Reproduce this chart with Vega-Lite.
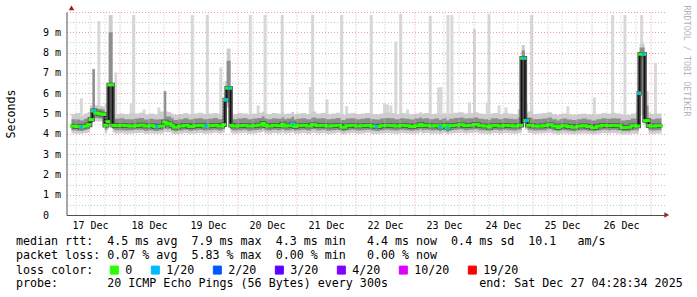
{
"$schema": "https://vega.github.io/schema/vega-lite/v6.json",
"width": 600, "height": 203,
"autosize": {"type": "none"},
"padding": {"left": 66.5, "top": 12, "right": 30.5, "bottom": 82},
"background": "white",
"config": {"view": {"stroke": null}, "font": "DejaVu Sans Mono"},
"title": {
 "text": ["median rtt:\u00a0\u00a04.5 ms avg\u00a0\u00a07.9 ms max\u00a0\u00a04.3 ms min\u00a0\u00a0\u00a04.4 ms now\u00a0\u00a00.4 ms sd\u00a0\u00a010.1\u00a0\u00a0\u00a0am/s",
  "packet loss: 0.07 % avg\u00a0\u00a05.83 % max\u00a0\u00a00.00 % min\u00a0\u00a0\u00a00.00 % now"],
 "subtitle": "probe:\u00a0\u00a0\u00a0\u00a0\u00a0\u00a0\u00a020 ICMP Echo Pings (56 Bytes) every 300s\u00a0\u00a0\u00a0\u00a0\u00a0\u00a0\u00a0\u00a0\u00a0\u00a0\u00a0\u00a0\u00a0end: Sat Dec 27 04:28:34 2025",
 "orient": "bottom", "anchor": "start", "frame": "group", "dx": -50.5, "offset": -41,
 "font": "DejaVu Sans Mono", "fontSize": 11.67, "fontWeight": "normal", "color": "black",
 "lineHeight": 14, "baseline": "top",
 "subtitleFont": "DejaVu Sans Mono", "subtitleFontSize": 11.67, "subtitleFontWeight": "normal", "subtitleColor": "black",
 "subtitleLineHeight": 14, "subtitlePadding": 16.5
},
"datasets": {
 "main": [
  {"t":4.476,"m":4.38,"a":4.02,"b":4.18,"c":4.72,"d":4.98},
  {"t":6,"m":4.36,"a":4.0,"b":4.15,"c":4.7,"d":5.02},
  {"t":8,"m":4.33,"a":4.0,"b":4.14,"c":4.66,"d":4.9},
  {"t":9.5,"m":4.38,"a":4.04,"b":4.2,"c":4.74,"d":5.0},
  {"t":11,"m":4.45,"a":4.08,"b":4.24,"c":4.8,"d":5.08},
  {"t":12,"m":4.7,"a":4.3,"b":4.5,"c":5.1,"d":5.4},
  {"t":13,"m":5.13,"a":4.62,"b":4.8,"c":7.18,"d":7.2},
  {"t":14,"m":5.02,"a":4.62,"b":4.78,"c":5.25,"d":5.42},
  {"t":15.5,"m":4.98,"a":4.6,"b":4.75,"c":5.22,"d":5.38},
  {"t":17,"m":4.95,"a":4.58,"b":4.74,"c":5.2,"d":5.35},
  {"t":18,"m":4.42,"a":4.04,"b":4.2,"c":4.8,"d":5.1},
  {"t":19,"m":4.6,"a":4.2,"b":4.4,"c":5.0,"d":5.5},
  {"t":19.6,"m":6.41,"a":4.5,"b":5.6,"c":9.0,"d":9.85},
  {"t":21.2,"m":4.42,"a":4.06,"b":4.22,"c":4.8,"d":5.05},
  {"t":22,"m":4.4,"a":4.02,"b":4.18,"c":4.74,"d":4.98},
  {"t":24,"m":4.42,"a":4.03,"b":4.18,"c":4.76,"d":5.0},
  {"t":26,"m":4.4,"a":4.0,"b":4.16,"c":4.72,"d":4.96},
  {"t":28,"m":4.38,"a":4.02,"b":4.17,"c":4.72,"d":5.02},
  {"t":30,"m":4.4,"a":4.04,"b":4.2,"c":4.75,"d":5.0},
  {"t":32,"m":4.43,"a":4.05,"b":4.2,"c":4.78,"d":5.04},
  {"t":34,"m":4.38,"a":4.0,"b":4.15,"c":4.7,"d":4.95},
  {"t":36,"m":4.4,"a":4.02,"b":4.18,"c":4.74,"d":5.0},
  {"t":38,"m":4.35,"a":4.0,"b":4.14,"c":4.7,"d":4.96},
  {"t":40,"m":4.38,"a":4.02,"b":4.17,"c":4.72,"d":5.1},
  {"t":42,"m":4.58,"a":4.1,"b":4.3,"c":6.1,"d":6.12},
  {"t":43,"m":4.48,"a":4.06,"b":4.22,"c":4.85,"d":5.1},
  {"t":44,"m":4.5,"a":4.08,"b":4.25,"c":4.85,"d":5.08},
  {"t":45,"m":4.4,"a":4.02,"b":4.18,"c":4.76,"d":5.0},
  {"t":46,"m":4.32,"a":3.98,"b":4.12,"c":4.68,"d":4.94},
  {"t":48,"m":4.38,"a":4.0,"b":4.16,"c":4.72,"d":4.98},
  {"t":50,"m":4.42,"a":4.04,"b":4.2,"c":4.76,"d":5.02},
  {"t":52,"m":4.36,"a":4.0,"b":4.15,"c":4.7,"d":4.96},
  {"t":54,"m":4.4,"a":4.02,"b":4.18,"c":4.75,"d":5.0},
  {"t":56,"m":4.42,"a":4.04,"b":4.2,"c":4.76,"d":5.04},
  {"t":58,"m":4.38,"a":4.0,"b":4.16,"c":4.72,"d":4.98},
  {"t":60,"m":4.4,"a":4.02,"b":4.18,"c":4.74,"d":5.0},
  {"t":62,"m":4.42,"a":4.05,"b":4.2,"c":4.78,"d":5.02},
  {"t":64,"m":4.38,"a":4.02,"b":4.16,"c":4.72,"d":4.98},
  {"t":66,"m":4.45,"a":4.06,"b":4.22,"c":4.8,"d":5.3},
  {"t":66.8,"m":5.67,"a":4.8,"b":5.1,"c":6.0,"d":6.6},
  {"t":67.6,"m":6.25,"a":5.3,"b":5.6,"c":7.6,"d":8.2},
  {"t":69.2,"m":4.42,"a":4.04,"b":4.2,"c":4.8,"d":5.1},
  {"t":70,"m":4.38,"a":4.0,"b":4.16,"c":4.72,"d":4.98},
  {"t":72,"m":4.4,"a":4.03,"b":4.18,"c":4.75,"d":5.02},
  {"t":74,"m":4.42,"a":4.05,"b":4.2,"c":4.78,"d":5.0},
  {"t":76,"m":4.38,"a":4.0,"b":4.15,"c":4.72,"d":4.96},
  {"t":78,"m":4.4,"a":4.02,"b":4.18,"c":4.75,"d":5.0},
  {"t":80,"m":4.43,"a":4.05,"b":4.2,"c":4.78,"d":5.04},
  {"t":82,"m":4.52,"a":4.1,"b":4.26,"c":4.86,"d":5.1},
  {"t":83,"m":4.4,"a":4.02,"b":4.18,"c":4.75,"d":5.0},
  {"t":84,"m":4.38,"a":4.0,"b":4.16,"c":4.72,"d":4.98},
  {"t":86,"m":4.42,"a":4.04,"b":4.2,"c":4.76,"d":5.02},
  {"t":88,"m":4.4,"a":4.02,"b":4.18,"c":4.74,"d":5.0},
  {"t":90,"m":4.48,"a":4.06,"b":4.22,"c":4.82,"d":5.06},
  {"t":91,"m":4.38,"a":4.0,"b":4.16,"c":4.72,"d":4.98},
  {"t":92,"m":4.4,"a":4.03,"b":4.18,"c":4.75,"d":5.0},
  {"t":94,"m":4.48,"a":4.06,"b":4.22,"c":4.84,"d":5.08},
  {"t":95,"m":4.36,"a":4.0,"b":4.15,"c":4.7,"d":4.96},
  {"t":96,"m":4.4,"a":4.02,"b":4.18,"c":4.74,"d":5.0},
  {"t":98,"m":4.42,"a":4.04,"b":4.2,"c":4.77,"d":5.02},
  {"t":100,"m":4.38,"a":4.0,"b":4.16,"c":4.72,"d":4.98},
  {"t":102,"m":4.45,"a":4.05,"b":4.22,"c":4.8,"d":5.1},
  {"t":104,"m":4.4,"a":4.02,"b":4.18,"c":4.75,"d":5.0},
  {"t":106,"m":4.42,"a":4.04,"b":4.2,"c":4.76,"d":5.02},
  {"t":108,"m":4.38,"a":4.0,"b":4.15,"c":4.72,"d":4.98},
  {"t":110,"m":4.4,"a":4.02,"b":4.18,"c":4.74,"d":5.0},
  {"t":112,"m":4.42,"a":4.05,"b":4.2,"c":4.78,"d":5.04},
  {"t":114,"m":4.32,"a":3.98,"b":4.12,"c":4.68,"d":4.94},
  {"t":116,"m":4.4,"a":4.02,"b":4.18,"c":4.75,"d":5.0},
  {"t":118,"m":4.42,"a":4.04,"b":4.2,"c":4.77,"d":5.02},
  {"t":120,"m":4.38,"a":4.0,"b":4.16,"c":4.72,"d":4.98},
  {"t":122,"m":4.4,"a":4.02,"b":4.18,"c":4.74,"d":5.0},
  {"t":124,"m":4.42,"a":4.05,"b":4.2,"c":4.78,"d":5.02},
  {"t":126,"m":4.38,"a":4.0,"b":4.16,"c":4.72,"d":4.98},
  {"t":128,"m":4.35,"a":4.0,"b":4.14,"c":4.7,"d":4.96},
  {"t":130,"m":4.4,"a":4.02,"b":4.18,"c":4.75,"d":5.0},
  {"t":132,"m":4.42,"a":4.04,"b":4.2,"c":4.78,"d":5.05},
  {"t":134,"m":4.4,"a":4.02,"b":4.18,"c":4.76,"d":5.02},
  {"t":136,"m":4.38,"a":4.0,"b":4.16,"c":4.72,"d":4.98},
  {"t":138,"m":4.42,"a":4.04,"b":4.2,"c":4.77,"d":5.02},
  {"t":140,"m":4.4,"a":4.02,"b":4.18,"c":4.74,"d":5.0},
  {"t":142,"m":4.36,"a":4.0,"b":4.15,"c":4.7,"d":4.96},
  {"t":144,"m":4.4,"a":4.02,"b":4.18,"c":4.75,"d":5.0},
  {"t":146,"m":4.46,"a":4.06,"b":4.22,"c":4.8,"d":5.06},
  {"t":147,"m":4.4,"a":4.02,"b":4.18,"c":4.74,"d":5.0},
  {"t":148,"m":4.42,"a":4.04,"b":4.2,"c":4.77,"d":5.02},
  {"t":150,"m":4.38,"a":4.0,"b":4.16,"c":4.72,"d":4.98},
  {"t":152,"m":4.4,"a":4.02,"b":4.18,"c":4.75,"d":5.0},
  {"t":154,"m":4.33,"a":3.98,"b":4.13,"c":4.68,"d":4.95},
  {"t":155,"m":4.4,"a":4.02,"b":4.18,"c":4.74,"d":5.0},
  {"t":156,"m":4.42,"a":4.04,"b":4.2,"c":4.77,"d":5.02},
  {"t":157,"m":4.28,"a":3.96,"b":4.1,"c":4.65,"d":4.92},
  {"t":158,"m":4.4,"a":4.02,"b":4.18,"c":4.74,"d":5.0},
  {"t":160,"m":4.42,"a":4.04,"b":4.2,"c":4.78,"d":5.04},
  {"t":162,"m":4.45,"a":4.05,"b":4.22,"c":4.8,"d":5.06},
  {"t":164,"m":4.4,"a":4.02,"b":4.18,"c":4.75,"d":5.0},
  {"t":166,"m":4.42,"a":4.04,"b":4.2,"c":4.77,"d":5.02},
  {"t":168,"m":4.46,"a":4.06,"b":4.22,"c":4.8,"d":5.06},
  {"t":170,"m":4.4,"a":4.02,"b":4.18,"c":4.74,"d":5.0},
  {"t":172,"m":4.38,"a":4.0,"b":4.16,"c":4.72,"d":4.98},
  {"t":174,"m":4.32,"a":3.98,"b":4.12,"c":4.68,"d":4.94},
  {"t":175,"m":4.4,"a":4.02,"b":4.18,"c":4.75,"d":5.0},
  {"t":176,"m":4.42,"a":4.04,"b":4.2,"c":4.77,"d":5.02},
  {"t":178,"m":4.38,"a":4.0,"b":4.16,"c":4.72,"d":4.98},
  {"t":180,"m":4.42,"a":4.04,"b":4.2,"c":4.77,"d":5.02},
  {"t":182,"m":4.4,"a":4.02,"b":4.18,"c":4.74,"d":5.0},
  {"t":184,"m":4.38,"a":4.0,"b":4.16,"c":4.72,"d":4.98},
  {"t":186,"m":4.42,"a":4.04,"b":4.2,"c":4.8,"d":5.2},
  {"t":187.6,"m":7.72,"a":6.6,"b":7.3,"c":8.1,"d":8.38},
  {"t":188.9,"m":4.65,"a":4.2,"b":4.35,"c":5.0,"d":5.5},
  {"t":190,"m":4.42,"a":4.04,"b":4.2,"c":4.8,"d":5.1},
  {"t":192,"m":4.38,"a":4.0,"b":4.16,"c":4.72,"d":4.98},
  {"t":194,"m":4.38,"a":4.02,"b":4.17,"c":4.73,"d":5.0},
  {"t":196,"m":4.4,"a":4.03,"b":4.18,"c":4.75,"d":5.02},
  {"t":198,"m":4.45,"a":4.05,"b":4.22,"c":4.8,"d":5.06},
  {"t":200,"m":4.38,"a":4.0,"b":4.16,"c":4.72,"d":4.98},
  {"t":202,"m":4.3,"a":3.97,"b":4.12,"c":4.66,"d":4.92},
  {"t":203,"m":4.38,"a":4.0,"b":4.16,"c":4.72,"d":4.98},
  {"t":204,"m":4.4,"a":4.02,"b":4.18,"c":4.75,"d":5.0},
  {"t":206,"m":4.36,"a":4.0,"b":4.15,"c":4.7,"d":4.96},
  {"t":208,"m":4.32,"a":3.98,"b":4.12,"c":4.68,"d":4.94},
  {"t":210,"m":4.38,"a":4.0,"b":4.16,"c":4.72,"d":4.98},
  {"t":212,"m":4.4,"a":4.02,"b":4.18,"c":4.75,"d":5.0},
  {"t":214,"m":4.36,"a":4.0,"b":4.15,"c":4.7,"d":4.96},
  {"t":216,"m":4.3,"a":3.97,"b":4.12,"c":4.66,"d":4.92},
  {"t":218,"m":4.38,"a":4.0,"b":4.16,"c":4.72,"d":4.98},
  {"t":220,"m":4.42,"a":4.04,"b":4.2,"c":4.77,"d":5.02},
  {"t":222,"m":4.4,"a":4.02,"b":4.18,"c":4.74,"d":5.0},
  {"t":224,"m":4.42,"a":4.04,"b":4.2,"c":4.77,"d":5.04},
  {"t":226,"m":4.4,"a":4.02,"b":4.18,"c":4.75,"d":5.0},
  {"t":228,"m":4.3,"a":3.97,"b":4.12,"c":4.66,"d":4.92},
  {"t":230,"m":4.32,"a":3.98,"b":4.12,"c":4.68,"d":4.94},
  {"t":232,"m":4.4,"a":4.02,"b":4.18,"c":4.75,"d":5.0},
  {"t":234,"m":4.38,"a":4.0,"b":4.16,"c":4.74,"d":5.1},
  {"t":235.2,"m":6.0,"a":5.2,"b":5.7,"c":6.8,"d":7.3},
  {"t":235.6,"m":7.92,"a":7.5,"b":7.72,"c":8.25,"d":8.45},
  {"t":237.6,"m":4.65,"a":4.3,"b":4.5,"c":5.4,"d":6.1},
  {"t":239.2,"m":4.4,"a":4.02,"b":4.18,"c":4.78,"d":5.05},
  {"t":240,"m":4.38,"a":4.0,"b":4.16,"c":4.72,"d":4.98},
  {"t":242,"m":4.4,"a":4.02,"b":4.18,"c":4.75,"d":5.0},
  {"t":244.476,"m":4.4,"a":4.02,"b":4.18,"c":4.75,"d":5.0}
 ],
 "spikes": [
  {"t":8.5,"top":5.75},{"t":15.6,"top":9.56},{"t":18.6,"top":5.5},{"t":22.5,"top":7.03},{"t":28.8,"top":5.5},{"t":29.7,"top":9.85},{"t":34,"top":5.2},{"t":40,"top":5.3},{"t":53.6,"top":9.85},{"t":59.7,"top":9.85},{"t":65.2,"top":7.27},{"t":77.2,"top":9.85},{"t":80.4,"top":5.4},{"t":83.2,"top":9.85},{"t":90.2,"top":9.85},{"t":101.6,"top":6.3},{"t":102.6,"top":9.85},{"t":108.4,"top":5.7},{"t":114.4,"top":9.85},{"t":116.4,"top":5.36},{"t":126.4,"top":9.85},{"t":131.8,"top":5.5},{"t":133,"top":5.45},{"t":134.4,"top":5.4},{"t":136.4,"top":8.54},{"t":138.4,"top":9.9},{"t":141.2,"top":5.2},{"t":150.4,"top":9.8},{"t":153.8,"top":6.28},{"t":154.8,"top":6.3},{"t":157.6,"top":9.85},{"t":159.2,"top":9.85},{"t":166.4,"top":5.55},{"t":168.4,"top":9.16},{"t":173.6,"top":5.55},{"t":174.3,"top":9.9},{"t":178.4,"top":5.4},{"t":181.2,"top":5.3},{"t":191.6,"top":9.85},{"t":206.4,"top":5.36},{"t":217.2,"top":5.79},{"t":224.6,"top":9.85},{"t":229.6,"top":9.85},{"t":236.4,"top":9.85},{"t":242,"top":7.5}
 ],
 "loss": [
  {"t":8.4,"v":4.33,"loss":"1/20"},{"t":13.6,"v":5.13,"loss":"1/20"},{"t":39.2,"v":4.33,"loss":"1/20"},{"t":59.2,"v":4.38,"loss":"1/20"},{"t":67.2,"v":5.67,"loss":"1/20"},{"t":68.6,"v":6.25,"loss":"1/20"},{"t":94.4,"v":4.5,"loss":"1/20"},{"t":128.4,"v":4.33,"loss":"1/20"},{"t":154.4,"v":4.33,"loss":"1/20"},{"t":157.6,"v":4.28,"loss":"1/20"},{"t":188.4,"v":7.72,"loss":"1/20"},{"t":189.6,"v":4.65,"loss":"1/20"},{"t":235.3,"v":6.0,"loss":"1/20"},{"t":237.1,"v":7.92,"loss":"1/20"}
 ],
 "arrowtop": [{"t":4.476,"v":10.2}],
 "arrowright": [{"t":246.6,"v":0}]
},
"encoding": {
 "x": {"field": "t", "type": "quantitative", "scale": {"domain": [4.476, 244.476], "nice": false, "zero": false},
  "axis": {"values": [6,12,18,24,30,36,42,48,54,60,66,72,78,84,90,96,102,108,114,120,126,132,138,144,150,156,162,168,174,180,186,192,198,204,210,216,222,228,234,240],
   "grid": true, "gridColor": {"condition": {"test": "datum.value % 24 === 0", "value": "#e8a0a0"}, "value": "#c8c8c8"},
   "gridDash": [1, 2], "gridWidth": 1, "ticks": false, "domainColor": "#505050", "domainWidth": 1,
   "labelExpr": "datum.value % 24 === 12 ? ['17 Dec','18 Dec','19 Dec','20 Dec','21 Dec','22 Dec','23 Dec','24 Dec','25 Dec','26 Dec'][floor(datum.value / 24)] : ''",
   "labelFont": "DejaVu Sans Mono", "labelFontSize": 10, "labelColor": "black", "labelPadding": 5,
   "labelOverlap": false, "labelBound": false, "labelFlush": false, "title": null, "zindex": 1}}
},
"resolve": {"axis": {"y": "independent"}},
"layer": [
 {"data": {"name": "spikes"},
  "mark": {"type": "bar", "size": 3, "color": "#d8d8d8"},
  "encoding": {
   "y": {"field": "top", "type": "quantitative", "scale": {"domain": [0, 10], "nice": false},
    "axis": {"values": [0,0.5,1,1.5,2,2.5,3,3.5,4,4.5,5,5.5,6,6.5,7,7.5,8,8.5,9,9.5,10],
     "grid": true, "gridColor": {"condition": {"test": "datum.value % 1 === 0", "value": "#e8a0a0"}, "value": "#c8c8c8"},
     "gridOpacity": {"condition": {"test": "datum.value === 0", "value": 0}, "value": 1},
     "gridDash": [1, 2], "gridWidth": 1, "ticks": false, "domainColor": "#505050", "domainWidth": 1,
     "labelExpr": "(datum.value % 1 !== 0 || datum.value >= 10) ? '' : (datum.value === 0 ? '0' : datum.value + '\u00a0m')",
     "labelFont": "DejaVu Sans Mono", "labelFontSize": 10, "labelColor": "black", "labelPadding": 24, "labelAlign": "left",
     "labelOverlap": false, "labelBound": false, "labelFlush": false,
     "title": "Seconds", "titleFont": "DejaVu Sans Mono", "titleFontSize": 11.67, "titleFontWeight": "normal",
     "titleColor": "black", "titleX": -56, "titleY": 101.5, "titleAngle": 270, "titleBaseline": "middle", "titleAlign": "center"}},
   "y2": {"datum": 4.9}
  }},
 {"data": {"name": "main"},
  "mark": {"type": "area", "interpolate": "step-after", "color": "#cdcdcd", "opacity": 1},
  "encoding": {
   "y": {"field": "a", "type": "quantitative",
    "axis": {"orient": "right", "labels": false, "ticks": false, "domain": false, "grid": false,
     "title": "RRDTOOL / TOBI OETIKER", "titleFont": "DejaVu Sans Mono", "titleFontSize": 8.4, "titleFontWeight": "normal",
     "titleColor": "#b4b4b4", "titleAngle": 90, "titleX": 20, "titleY": -7, "titleAlign": "left", "titleBaseline": "middle"}},
   "y2": {"field": "d"}
  }},
 {"data": {"name": "main"},
  "mark": {"type": "area", "interpolate": "step-after", "color": "#8e8e8e", "opacity": 1},
  "encoding": {
   "y": {"field": "b", "type": "quantitative", "axis": null},
   "y2": {"field": "c"}
  }},
 {"data": {"name": "main"},
  "mark": {"type": "line", "interpolate": "step-after", "color": "#505050", "strokeWidth": 4.5},
  "encoding": {
   "y": {"field": "m", "type": "quantitative", "axis": null}
  }},
 {"data": {"name": "main"},
  "mark": {"type": "line", "interpolate": "step-after", "color": "#141414", "strokeWidth": 1.5},
  "encoding": {
   "y": {"field": "m", "type": "quantitative", "axis": null}
  }},
 {"data": {"name": "main"},
  "transform": [{"window": [{"op": "lead", "field": "t", "as": "t2"}], "sort": [{"field": "t", "order": "ascending"}]},
   {"filter": "datum.t2 != null"}],
  "mark": {"type": "rule", "strokeWidth": 3, "strokeCap": "square"},
  "encoding": {
   "x2": {"field": "t2"},
   "y": {"field": "m", "type": "quantitative", "axis": null},
   "color": {"datum": "0", "type": "nominal",
    "scale": {"domain": ["0","1/20","2/20","3/20","4/20","10/20","19/20"], "range": ["#26ff00","#00b8ff","#0059ff","#5e00ff","#7e00ff","#dd00ff","#ff0000"]}}
  }},
 {"data": {"name": "loss"},
  "mark": {"type": "point", "shape": "square", "filled": true, "opacity": 1, "size": 10},
  "encoding": {
   "y": {"field": "v", "type": "quantitative", "axis": null},
   "color": {"field": "loss", "type": "nominal",
    "scale": {"domain": ["0","1/20","2/20","3/20","4/20","10/20","19/20"], "range": ["#26ff00","#00b8ff","#0059ff","#5e00ff","#7e00ff","#dd00ff","#ff0000"]},
    "legend": {"orient": "none", "legendX": -50.5, "legendY": 252, "direction": "horizontal",
     "title": "loss color:", "titleOrient": "left", "titleFont": "DejaVu Sans Mono", "titleFontSize": 11.67,
     "titleFontWeight": "normal", "titleColor": "black", "titlePadding": 14.5, "titleBaseline": "middle",
     "labelFont": "DejaVu Sans Mono", "labelFontSize": 11.67, "labelColor": "black", "labelOffset": 5,
     "symbolType": "square", "symbolSize": 64, "symbolOpacity": 1, "symbolStrokeColor": "black", "symbolStrokeWidth": 1,
     "columnPadding": 16, "padding": 0,
     "encode": {"symbols": {"update": {"fill": {"scale": "color", "field": "value"}, "stroke": {"value": "black"}, "strokeWidth": {"value": 1}, "opacity": {"value": 1}}}}}}
  }},
 {"data": {"name": "arrowtop"},
  "mark": {"type": "point", "shape": "triangle-up", "filled": true, "opacity": 1, "size": 30, "color": "#a01818"},
  "encoding": {
   "y": {"field": "v", "type": "quantitative", "axis": null}
  }},
 {"data": {"name": "arrowright"},
  "mark": {"type": "point", "shape": "triangle-right", "filled": true, "opacity": 1, "size": 30, "color": "#a01818"},
  "encoding": {
   "y": {"field": "v", "type": "quantitative", "axis": null}
  }}
]
}
